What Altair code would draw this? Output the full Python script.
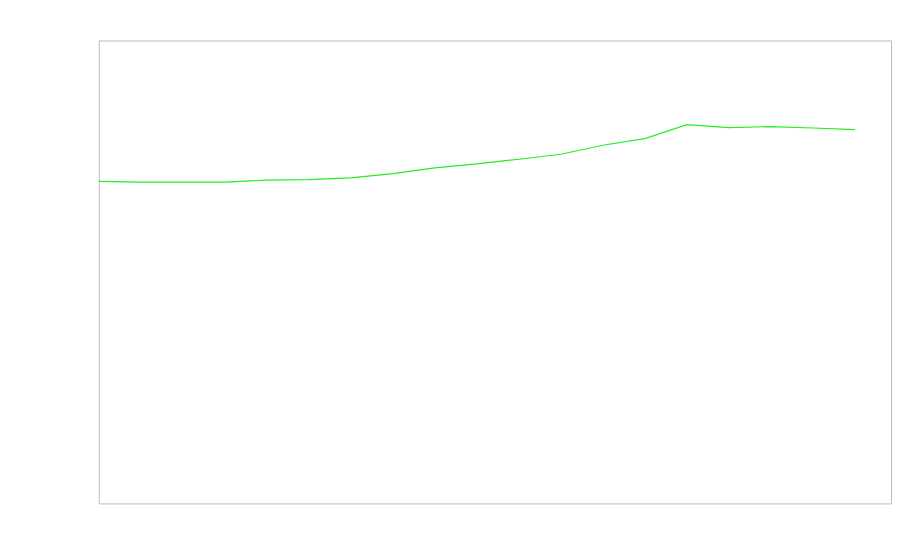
import altair as alt
import pandas as pd

years = list(range(2000, 2019))
values = [69.55, 69.40, 69.40, 69.40, 69.83, 69.94, 70.32, 71.23, 72.50, 73.34,
          74.35, 75.43, 77.37, 78.81, 81.83, 81.19, 81.40, 81.10, 80.75]

df = pd.DataFrame({"year": years, "value": values})

chart = (
    alt.Chart(df)
    .mark_line(color="#22ee22", strokeWidth=1.2)
    .encode(
        x=alt.X("year:Q", axis=None,
                scale=alt.Scale(domain=[2000, 2018.86], nice=False, zero=False)),
        y=alt.Y("value:Q", axis=None,
                scale=alt.Scale(domain=[0, 100], nice=False)),
    )
    .properties(
        width=794,
        height=464,
        autosize=alt.AutoSizeParams(type="none"),
        padding={"left": 91, "top": 32, "right": 1, "bottom": 1},
    )
    .configure_view(stroke="#bbbbbb", strokeWidth=1)
)

chart.save("out.html", embed_options={"renderer": "svg", "actions": False})
